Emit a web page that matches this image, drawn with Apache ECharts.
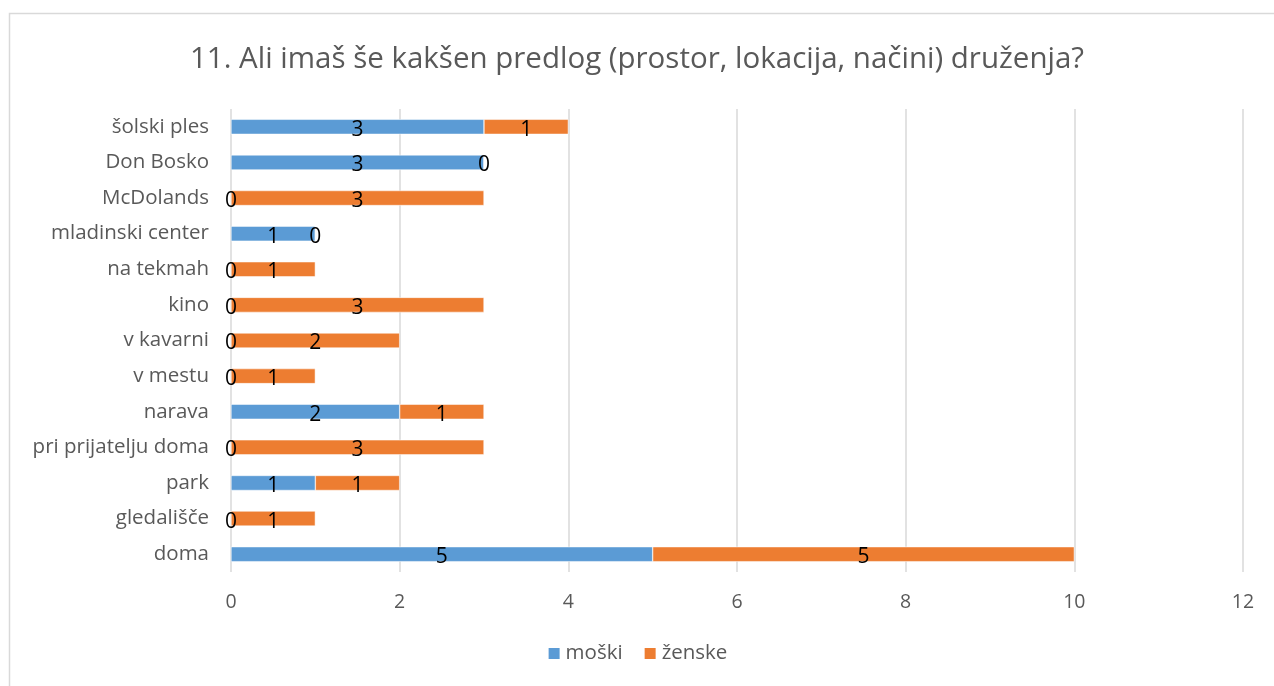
<!DOCTYPE html>
<html><head><meta charset="utf-8">
<script src="https://cdn.jsdelivr.net/npm/echarts@6/dist/echarts.min.js"></script>
<style>html,body{margin:0;padding:0;background:#fff}#c{width:1274px;height:686px}</style>
</head><body><div id="c"></div>
<script>
const categories = ['doma','gledališče','park','pri prijatelju doma','narava','v mestu','v kavarni','kino','na tekmah','mladinski center','McDolands','Don Bosko','šolski ples'];
const moski = [5,0,1,0,2,0,0,0,0,1,0,3,3];
const zenske = [5,1,1,3,1,1,2,3,1,0,3,0,1];
const xTicks = [0,2,4,6,8,10,12];
const FONT = '"Open Sans", "Noto Sans", sans-serif';
const chart = echarts.init(document.getElementById('c'));
const lbl = {show:true, position:'inside', color:'#000', fontSize:21, fontFamily:FONT, offset:[0,3]};
chart.setOption({
  animation:false,
  title:{text:'11. Ali imaš še kakšen predlog (prostor, lokacija, načini) druženja?', left:'center', top:40,
    textStyle:{color:'#595959', fontSize:29.5, fontWeight:'normal', fontFamily:FONT}},
  graphic:[{type:'rect', shape:{x:9.5,y:13.5,width:1280,height:700}, style:{fill:'none', stroke:'#d9d9d9', lineWidth:1.5}, silent:true}],
  legend:{bottom:17, left:'center', itemWidth:13, itemHeight:13, itemGap:20, icon:'rect',
    textStyle:{color:'#595959', fontSize:20.5, fontFamily:FONT}, data:['moški','ženske']},
  grid:{left:231, right:31, top:109, bottom:114},
  xAxis:{type:'value', min:0, max:12, interval:2,
    axisLine:{show:false}, axisTick:{show:false},
    splitLine:{lineStyle:{color:'#d9d9d9', width:1.5}},
    axisLabel:{color:'#595959', fontSize:19.5, fontFamily:FONT, margin:20, formatter:v=>xTicks.includes(v)?String(v):''}},
  yAxis:{type:'category', data:categories,
    axisLine:{show:false}, axisTick:{show:false},
    axisLabel:{color:'#595959', fontSize:20.5, fontFamily:FONT, margin:22}},
  series:[
    {name:'moški', type:'bar', stack:'a', data:moski, barWidth:15, itemStyle:{color:'#5b9bd5', borderColor:'#fff', borderWidth:0.5}, label:lbl},
    {name:'ženske', type:'bar', stack:'a', data:zenske, barWidth:15, itemStyle:{color:'#ed7d31', borderColor:'#fff', borderWidth:0.5}, label:lbl}
  ]
});
</script></body></html>
